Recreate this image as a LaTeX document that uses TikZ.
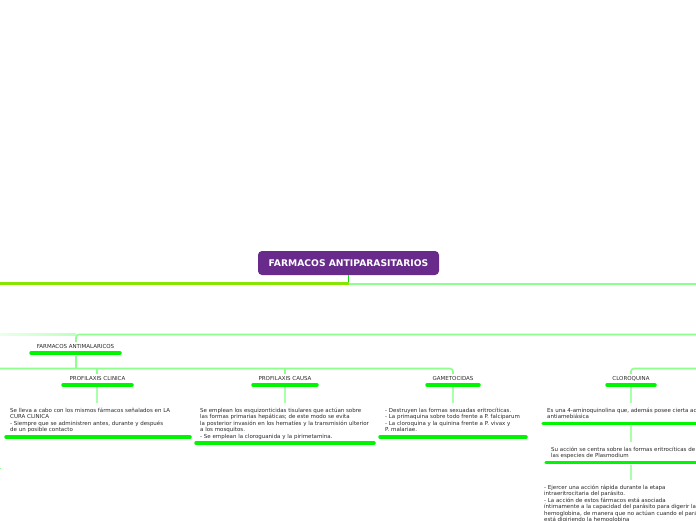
\documentclass[tikz,border=0pt]{standalone}
\usepackage{fontspec}
\setmainfont{DejaVu Sans}
\definecolor{purp}{RGB}{104,43,140}
\definecolor{barc}{RGB}{0,245,0}
\definecolor{connc}{RGB}{140,255,140}
\definecolor{vconn}{RGB}{170,255,170}
\definecolor{leftc}{RGB}{135,230,0}
\definecolor{rootc}{RGB}{20,220,20}
\definecolor{txt}{RGB}{40,40,40}
\begin{document}
\begin{tikzpicture}[x=1pt,y=-1pt,
  lbl/.style={font=\fontsize{5.5}{6.5}\selectfont, text=txt, inner sep=0pt},
  body/.style={lbl, align=left, anchor=base west},
  topbar/.style={line width=3.5pt, draw=barc, line cap=round},
  conn/.style={draw=connc, line width=1.6pt, rounded corners=3pt},
  vline/.style={draw=vconn, line width=1.6pt, rounded corners=3pt},
  rootbox/.style={fill=purp, rounded corners=4pt, minimum width=181pt, minimum height=24pt,
    text=white, inner sep=0pt, font=\bfseries\fontsize{9.2}{10}\selectfont}]
\useasboundingbox (0,0) rectangle (696,520);
\clip (0,0) rectangle (696,520);

% root
\node[rootbox] (root) at (348.5,263) {FARMACOS ANTIPARASITARIOS};
\coordinate (rj) at (348.5,283.5);
\coordinate (rl) at (0,283.5);
\coordinate (rr) at (696,283.5);
\draw[rootc, line width=1.6pt] (root.south) -- (rj);
\draw[draw=leftc, line width=2.2pt] (rl) -- (rj);
\draw[draw=connc, line width=2pt] (rj) -- (rr);

% FARMACOS ANTIMALARICOS
\node[lbl] (am) at (75.5,346.5) {FARMACOS ANTIMALARICOS};
\coordinate (amA) at (31,353);
\coordinate (amB) at (120,353);
\draw[topbar] (amA) -- (amB);
\coordinate (amIn) at (76,342);
\coordinate (amR) at (696,334.5);
\draw[conn] (amR) -- (76,334.5) -- (amIn);
\shade[left color=green!8, right color=green!25] (0,333.7) rectangle (76,335.3);
\coordinate (amOut) at (76,355.5);
\coordinate (hub) at (76,368.5);
\draw[conn] (amOut) -- (hub);

% children connectors
\coordinate (edgeL) at (0,368.5);
\coordinate (cIn) at (97,374);
\coordinate (caIn) at (285,374);
\coordinate (gIn) at (453,374);
\coordinate (clIn) at (631,374);
\coordinate (edgeR) at (696,368.5);
\draw[conn] (edgeL) -- (453,368.5) -- (gIn);
\draw[conn] (97,368.5) -- (cIn);
\draw[conn] (285,368.5) -- (caIn);
\draw[conn] (edgeR) -- (631,368.5) -- (clIn);

% PROFILAXIS CLINICA
\node[lbl] (pc) at (97.5,378.5) {PROFILAXIS CLINICA};
\draw[topbar] (63,385) -- (132,385);
\node[body] (pct) at (10,431.5) {Se lleva a cabo con los mismos fármacos señalados en LA\\CURA CLINICA\\- Siempre que se administren antes, durante y después\\de un posible contacto};
\draw[vline] (97,387) -- (97,403);
\draw[topbar] (6,437) -- (190,437);

% PROFILAXIS CAUSA
\node[lbl] (pca) at (285,378.5) {PROFILAXIS CAUSA};
\draw[topbar] (253,385) -- (317,385);
\node[body] (pcat) at (200,438) {Se emplean los esquizonticidas tisulares que actúan sobre\\las formas primarias hepáticas; de este modo se evita\\la posterior invasión en los hematíes y la transmisión ulterior\\a los mosquitos.\\- Se emplean la cloroguanida y la pirimetamina.};
\draw[vline] (285,387) -- (285,403);
\draw[topbar] (196,443) -- (374,443);

% GAMETOCIDAS
\node[lbl] (ga) at (453,378.5) {GAMETOCIDAS};
\draw[topbar] (427,385) -- (479,385);
\node[body] (gat) at (385,431.5) {- Destruyen las formas sexuadas eritrocíticas.\\- La primaquina sobre todo frente a P. falciparum\\- La cloroquina y la quinina frente a P. vivax y\\P. malariae.};
\draw[vline] (453,387) -- (453,403);
\draw[topbar] (380,437) -- (526,437);

% CLOROQUINA
\node[lbl] (cl) at (631,378.5) {CLOROQUINA};
\draw[topbar] (607,385) -- (655,385);
\node[body] (cl1) at (547,418.5) {Es una 4-aminoquinolina que, además posee cierta actividad\\antiamebiásica};
\draw[vline] (631,387) -- (631,403);
\draw[topbar] (543,423.5) -- (720,423.5);
\draw[vline] (631,425.5) -- (631,442);
\node[body] (cl2) at (551,457.5) {Su acción se centra sobre las formas eritrocíticas de\\las especies de Plasmodium};
\draw[topbar] (546,462.5) -- (720,462.5);
\draw[vline] (631,464.5) -- (631,480);
\node[body] (cl3) at (544,521.5) {- Ejercer una acción rápida durante la etapa\\intraeritrocitaria del parásito.\\- La acción de estos fármacos está asociada\\íntimamente a la capacidad del parásito para digerir la\\hemoglobina, de manera que no actúan cuando el parásito\\está digiriendo la hemoglobina};

% stub at bottom left
\coordinate (stubA) at (-2,468.5);
\coordinate (stubB) at (1.2,468.5);
\draw[connc, line width=1.6pt] (stubA) -- (stubB);
\end{tikzpicture}
\end{document}
